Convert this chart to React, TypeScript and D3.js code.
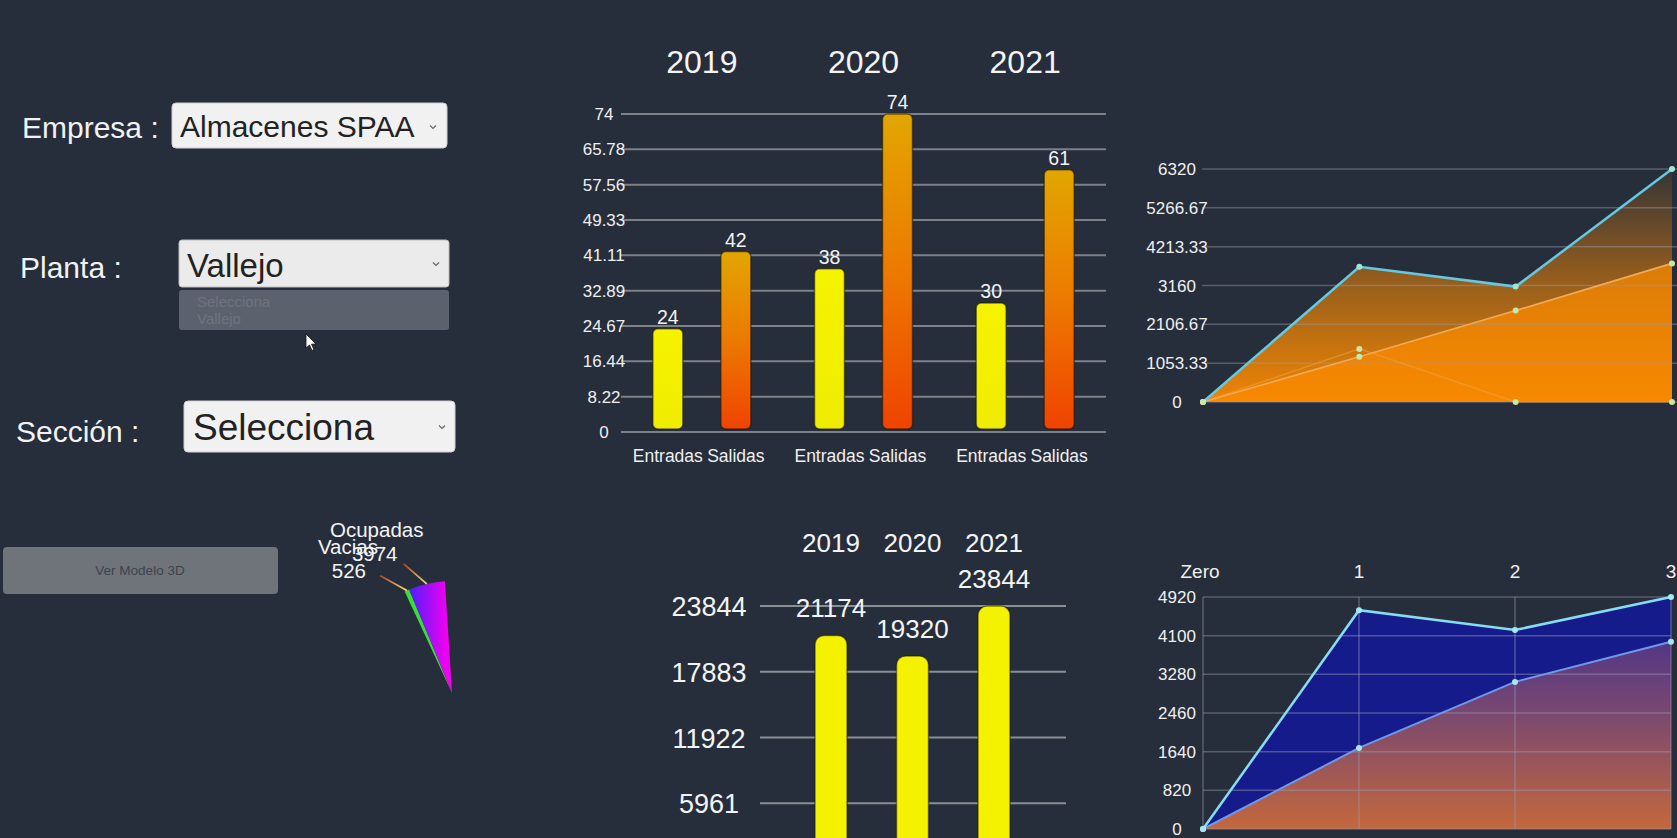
import React, { useEffect } from "react";
import * as d3 from "d3";

// ---------- data ----------
const years = ["2019", "2020", "2021"];
const barSubgroups = ["Entradas", "Salidas"];
const entradas = [24, 38, 30];
const salidas = [42, 74, 61];
const barTickLabels = ["0", "8.22", "16.44", "24.67", "32.89", "41.11", "49.33", "57.56", "65.78", "74"];

const areaX = [0, 1, 2, 3];
const areaSeriesA = [0, 3670, 3130, 6320];
const areaSeriesB = [0, 1230, 2480, 3760];
const areaSeriesC = [0, 1440, 0, 0];
const areaTickLabels = ["0", "1053.33", "2106.67", "3160", "4213.33", "5266.67", "6320"];

const pieLabels = ["Vacias", "Ocupadas"];
const pieValues = [526, 3974];

const totals = [21174, 19320, 23844];
const totalTickLabels = ["5961", "11922", "17883", "23844"];

const lineXLabels = ["Zero", "1", "2", "3"];
const lineSeriesA = [0, 4640, 4220, 4920];
const lineSeriesB = [0, 1720, 3120, 3970];
const lineTickLabels = ["0", "820", "1640", "2460", "3280", "4100", "4920"];

const FONT = "'Liberation Sans', Arial, Helvetica, sans-serif";
const BG = "#262d3b";

function Chevron({ x, y }: { x: number; y: number }) {
  return <path d={`M${x - 3},${y - 1.5} L${x},${y + 1.5} L${x + 3},${y - 1.5}`} fill="none" stroke="#666" strokeWidth={1.2} />;
}

export default function App() {
  useEffect(() => {
    document.body.style.margin = "0";
    document.body.style.background = BG;
  }, []);

  // ---- top bar chart ----
  const y1 = d3.scaleLinear().domain([0, 74]).range([432, 114]);
  const x1 = d3.scaleBand().domain(years).range([621, 1106]);
  const x1sub = d3.scalePoint().domain(barSubgroups).range([-34, 34]);
  const barW = 30;

  // ---- top right area ----
  const xa = d3.scaleLinear().domain([0, 3]).range([1203, 1672]);
  const ya = d3.scaleLinear().domain([0, 6320]).range([402, 169]);
  const areaGen = d3
    .area<number>()
    .x((_, i) => xa(areaX[i]))
    .y0(ya(0))
    .y1((d) => ya(d));
  const lineGenA = d3
    .line<number>()
    .x((_, i) => xa(areaX[i]))
    .y((d) => ya(d));

  // ---- pie ----
  const pieCx = 452,
    pieCy = 693,
    pieR = 112;
  const pieGen = d3
    .pie<number>()
    .sort(null)
    .startAngle((-25 * Math.PI) / 180)
    .endAngle((-3.6 * Math.PI) / 180);
  const arcs = pieGen(pieValues);
  const arcGen = d3.arc<d3.PieArcDatum<number>>().innerRadius(0).outerRadius(pieR);
  const leaderOffsets = [
    [-27, -15],
    [-23, -20],
  ];

  // ---- bottom bars ----
  const yb = d3.scaleLinear().domain([0, 23844]).range([869, 606]);
  const xb = d3.scalePoint().domain(years).range([831, 994]);
  const bW = 32;

  // ---- bottom right lines ----
  const xl = d3.scaleLinear().domain([0, 3]).range([1203, 1671]);
  const yl = d3.scaleLinear().domain([0, 4920]).range([829, 597]);
  const lArea = d3
    .area<number>()
    .x((_, i) => xl(i))
    .y0(yl(0))
    .y1((d) => yl(d));
  const lLine = d3
    .line<number>()
    .x((_, i) => xl(i))
    .y((d) => yl(d));

  return (
    <svg width={1677} height={838} style={{ position: "fixed", left: 0, top: 0, background: BG, fontFamily: FONT }}>
      <defs>
        <linearGradient id="gEnt" x1="0" y1="0" x2="0" y2="1">
          <stop offset="0" stopColor="#f6f300" />
          <stop offset="1" stopColor="#f0ec00" />
        </linearGradient>
        <linearGradient id="gSal" x1="0" y1="0" x2="0" y2="1">
          <stop offset="0" stopColor="#e2a600" />
          <stop offset="0.5" stopColor="#ec7a00" />
          <stop offset="1" stopColor="#f04300" />
        </linearGradient>
        <linearGradient id="gAreaA" gradientUnits="userSpaceOnUse" x1="0" y1={ya(6320)} x2="0" y2={ya(0)}>
          <stop offset="0" stopColor="#fb8a00" stopOpacity={0.08} />
          <stop offset="0.45" stopColor="#fb8a00" stopOpacity={0.5} />
          <stop offset="1" stopColor="#fb8a00" stopOpacity={0.95} />
        </linearGradient>
        <linearGradient id="gOcup" gradientUnits="userSpaceOnUse" x1={-47} y1={0} x2={-5} y2={0}>
          <stop offset="0" stopColor="#3a22ff" />
          <stop offset="1" stopColor="#f200f0" />
        </linearGradient>
        <linearGradient id="gLeader" x1="0" y1="0" x2="1" y2="1">
          <stop offset="0" stopColor="#b04030" />
          <stop offset="1" stopColor="#f4e070" />
        </linearGradient>
        <linearGradient id="gLineB" gradientUnits="userSpaceOnUse" x1="0" y1={yl(4920)} x2="0" y2={yl(0)}>
          <stop offset="0" stopColor="#3a2c92" />
          <stop offset="0.5" stopColor="#7a4870" />
          <stop offset="1" stopColor="#c4683c" />
        </linearGradient>
      </defs>

      {/* ---------- left form ---------- */}
      <g fill="#f2f2f2" fontSize={30}>
        <text x={22} y={138}>Empresa :</text>
        <text x={20} y={278}>Planta :</text>
        <text x={16} y={442}>Sección :</text>
      </g>
      <rect x={172} y={103} width={275} height={45} rx={4} fill="#f1f1f1" stroke="#cfcfcf" />
      <text x={180} y={137} fontSize={30} fill="#222">Almacenes SPAA</text>
      <Chevron x={433} y={127} />

      <rect x={179} y={240} width={270} height={47} rx={3} fill="#ebebeb" stroke="#bdbdbd" />
      <text x={187} y={277} fontSize={33} fill="#222">Vallejo</text>
      <Chevron x={436} y={264} />
      <rect x={179} y={290} width={270} height={40} rx={3} fill="#5b626d" />
      <text x={197} y={307} fontSize={15} fill="#6d7480">Selecciona</text>
      <text x={197} y={324} fontSize={15} fill="#6d7480">Vallejo</text>
      <path d="M306,334 L306,348 L309.5,345 L312,350.5 L314,349.5 L311.5,344.2 L316,344 Z" fill="#fff" stroke="#111" strokeWidth={0.8} />

      <rect x={184} y={401} width={271} height={51} rx={4} fill="#f1f1f1" stroke="#cfcfcf" />
      <text x={193} y={440} fontSize={37} fill="#222">Selecciona</text>
      <Chevron x={442} y={427} />

      <rect x={3} y={547} width={275} height={47} rx={4} fill="#6f747b" />
      <text x={140} y={575} fontSize={13.5} fill="#3e434b" textAnchor="middle">Ver Modelo 3D</text>

      {/* ---------- pie ---------- */}
      <g transform={`translate(${pieCx},${pieCy})`}>
        {arcs.map((a, i) => (
          <path key={i} d={arcGen(a) || ""} fill={i === 0 ? "#36e036" : "url(#gOcup)"} />
        ))}
      </g>
      {arcs.map((a, i) => {
        const mid = (a.startAngle + a.endAngle) / 2;
        const sx = pieCx + pieR * Math.sin(mid);
        const sy = pieCy - pieR * Math.cos(mid);
        const ex = sx + leaderOffsets[i][0];
        const ey = sy + leaderOffsets[i][1];
        return (
          <g key={"l" + i}>
            <line x1={ex} y1={ey} x2={sx} y2={sy} stroke="url(#gLeader)" strokeWidth={1.8} />
          </g>
        );
      })}
      {arcs.map((a, i) => {
        const mid = (a.startAngle + a.endAngle) / 2;
        const ex = pieCx + pieR * Math.sin(mid) + leaderOffsets[i][0];
        const ey = pieCy - pieR * Math.cos(mid) + leaderOffsets[i][1];
        return (
          <g key={"t" + i} fill="#f4f4f4" fontSize={20.5} textAnchor="middle">
            <text x={ex - (i === 0 ? 32 : 27)} y={ey - (i === 0 ? 21 : 27)}>{pieLabels[i]}</text>
            <text x={ex - (i === 0 ? 31 : 29)} y={ey + (i === 0 ? 3 : -3)}>{pieValues[i]}</text>
          </g>
        );
      })}

      {/* ---------- top bar chart ---------- */}
      {barTickLabels.map((t) => (
        <g key={t}>
          <line x1={621} x2={1106} y1={y1(parseFloat(t))} y2={y1(parseFloat(t))} stroke="#7c8189" strokeWidth={2} />
          <text x={604} y={y1(parseFloat(t)) + 6} fontSize={17} fill="#f0f0f0" textAnchor="middle">{t}</text>
        </g>
      ))}
      {years.map((yr, gi) => {
        const cx = (x1(yr) || 0) + x1.bandwidth() / 2;
        return (
          <g key={yr}>
            <text x={cx} y={73} fontSize={32} fill="#f4f4f4" textAnchor="middle">{yr}</text>
            {barSubgroups.map((sg) => {
              const v = sg === "Entradas" ? entradas[gi] : salidas[gi];
              const bx = cx + (x1sub(sg) || 0);
              return (
                <g key={sg}>
                  <rect
                    x={bx - barW / 2}
                    y={y1(v)}
                    width={barW}
                    height={y1(0) - 3 - y1(v)}
                    rx={5}
                    fill={sg === "Entradas" ? "url(#gEnt)" : "url(#gSal)"}
                    stroke="rgba(25,20,10,0.55)"
                    strokeWidth={1.5}
                  />
                  <text x={bx} y={y1(v) - 5} fontSize={19.5} fill="#f4f4f4" textAnchor="middle">{v}</text>
                  <text x={bx} y={462} fontSize={17.5} fill="#f0f0f0" textAnchor="middle">{sg}</text>
                </g>
              );
            })}
          </g>
        );
      })}

      {/* ---------- top right area chart ---------- */}
      <path d={areaGen(areaSeriesA) || ""} fill="url(#gAreaA)" />
      <path d={areaGen(areaSeriesB) || ""} fill="#fb8a00" opacity={0.72} />
      {areaTickLabels.map((t) => (
        <g key={t}>
          <line x1={1202} x2={1677} y1={ya(parseFloat(t))} y2={ya(parseFloat(t))} stroke="rgba(150,156,166,0.45)" strokeWidth={1.5} />
          <text x={1177} y={ya(parseFloat(t)) + 6} fontSize={17} fill="#f0f0f0" textAnchor="middle">{t}</text>
        </g>
      ))}
      <path d={lineGenA(areaSeriesC) || ""} fill="none" stroke="#f0a040" strokeWidth={1.5} opacity={0.55} />
      <path d={lineGenA(areaSeriesB) || ""} fill="none" stroke="#f2aa58" strokeWidth={1.6} />
      <path d={lineGenA(areaSeriesA) || ""} fill="none" stroke="#64c9e2" strokeWidth={2.5} />
      {[areaSeriesA, areaSeriesB, areaSeriesC].map((s, si) =>
        s.map((v, i) => <circle key={si + "-" + i} cx={xa(areaX[i])} cy={ya(v)} r={3} fill={si === 0 ? "#9ee6d8" : "#c8e8a8"} />)
      )}

      {/* ---------- bottom bar chart ---------- */}
      {totalTickLabels.map((t) => (
        <g key={t}>
          <line x1={760} x2={1066} y1={yb(parseFloat(t))} y2={yb(parseFloat(t))} stroke="#8a8f96" strokeWidth={2} />
          <text x={709} y={yb(parseFloat(t)) + 10} fontSize={27} fill="#f4f4f4" textAnchor="middle">{t}</text>
        </g>
      ))}
      {years.map((yr, i) => {
        const cx = xb(yr) || 0;
        return (
          <g key={"b" + yr}>
            <text x={cx} y={552} fontSize={26} fill="#f4f4f4" textAnchor="middle">{yr}</text>
            <rect x={cx - bW / 2} y={yb(totals[i])} width={bW} height={yb(0) - yb(totals[i]) + 20} rx={9} fill="#f4f200" stroke="rgba(25,20,10,0.5)" strokeWidth={1.5} />
            <text x={cx} y={yb(totals[i]) - 18} fontSize={26} fill="#f4f4f4" textAnchor="middle">{totals[i]}</text>
          </g>
        );
      })}

      {/* ---------- bottom right line chart ---------- */}
      <path d={lArea(lineSeriesA) || ""} fill="#161b8c" />
      <path d={lArea(lineSeriesB) || ""} fill="url(#gLineB)" />
      {lineTickLabels.map((t) => (
        <g key={t}>
          <line x1={1203} x2={1671} y1={yl(parseFloat(t))} y2={yl(parseFloat(t))} stroke="rgba(150,155,175,0.45)" strokeWidth={1.5} />
          <text x={1177} y={yl(parseFloat(t)) + 6} fontSize={17} fill="#f0f0f0" textAnchor="middle">{t}</text>
        </g>
      ))}
      {lineXLabels.map((t, i) => (
        <g key={t}>
          <line x1={xl(i)} x2={xl(i)} y1={yl(4920)} y2={yl(0)} stroke="rgba(150,155,175,0.45)" strokeWidth={1.5} />
          <text x={xl(i) - (i === 0 ? 3 : 0)} y={578} fontSize={19} fill="#f0f0f0" textAnchor="middle">{t}</text>
        </g>
      ))}
      <path d={lLine(lineSeriesB) || ""} fill="none" stroke="#6f98ea" strokeWidth={2} />
      <path d={lLine(lineSeriesA) || ""} fill="none" stroke="#86dcf0" strokeWidth={2.5} />
      {[lineSeriesA, lineSeriesB].map((s, si) =>
        s.map((v, i) => <circle key={"lp" + si + i} cx={xl(i)} cy={yl(v)} r={3} fill="#a4e8f4" />)
      )}
    </svg>
  );
}
